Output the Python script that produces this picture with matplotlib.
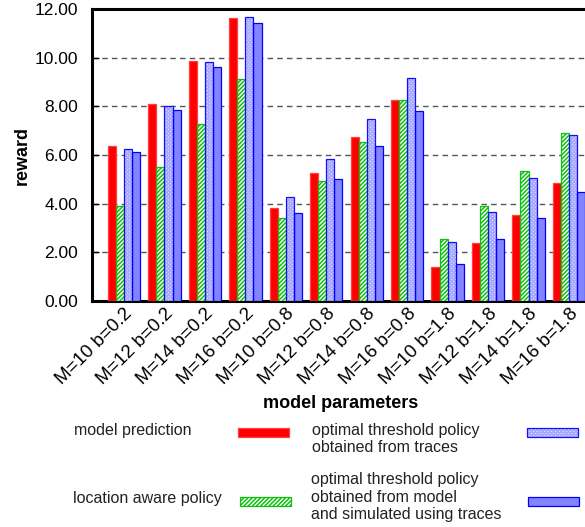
import numpy as np
import matplotlib.pyplot as plt
from matplotlib.patches import Rectangle

plt.rcParams['font.family'] = ['Liberation Sans', 'DejaVu Sans']
plt.rcParams['hatch.linewidth'] = 1.1

# Data
params = ["M=10 b=0.2", "M=12 b=0.2", "M=14 b=0.2", "M=16 b=0.2",
          "M=10 b=0.8", "M=12 b=0.8", "M=14 b=0.8", "M=16 b=0.8",
          "M=10 b=1.8", "M=12 b=1.8", "M=14 b=1.8", "M=16 b=1.8"]
model_prediction = [6.38, 8.10, 9.85, 11.63, 3.84, 5.27, 6.75, 8.27, 1.40, 2.38, 3.55, 4.84]
location_aware = [3.90, 5.49, 7.26, 9.11, 3.40, 4.92, 6.53, 8.26, 2.56, 3.89, 5.34, 6.89]
threshold_traces = [6.23, 8.01, 9.84, 11.69, 4.27, 5.82, 7.47, 9.15, 2.41, 3.65, 5.04, 6.81]
threshold_model = [6.11, 7.84, 9.60, 11.41, 3.60, 5.01, 6.38, 7.81, 1.51, 2.54, 3.40, 4.47]
yticks = [0, 2, 4, 6, 8, 10, 12]

W, H = 585, 527
fig = plt.figure(figsize=(W / 100, H / 100), dpi=100)


def fx(px):
    return px / W


def fy(py):
    return 1 - py / H


ax = fig.add_axes([fx(92), fy(301), fx(601) - fx(92), fy(9) - fy(301)])

# fill style (hatch colour follows edgecolor) + outline colour for each series
fills = [
    dict(facecolor='#ff0000', edgecolor='#ff0000', hatch=None),
    dict(facecolor='white', edgecolor='#10c010', hatch='////////'),
    dict(facecolor='#f0f0ff', edgecolor='#a8a8ff', hatch='xxxxxxxxx'),
    dict(facecolor='#8484ff', edgecolor='#8484ff', hatch=None),
]
outlines = ['#ff4040', '#10c010', '#1010ff', '#0000ff']
series = [model_prediction, location_aware, threshold_traces, threshold_model]

x = np.arange(len(params))
w = 0.2
for i, vals in enumerate(series):
    pos = x + (i - 1.5) * w
    ax.bar(pos, vals, w, linewidth=0, zorder=3, **fills[i])
    ax.bar(pos, vals, w, facecolor='none', edgecolor=outlines[i], linewidth=0.9, zorder=4)

ax.set_xlim(-0.79, 11.79)
ax.set_ylim(0, 12)
ax.set_yticks(yticks)
ax.set_yticklabels(["%.2f" % v for v in yticks], fontsize=12.5)
ax.yaxis.grid(True, linestyle=(0, (4, 3)), color='#555555', linewidth=1.0, zorder=0)
ax.tick_params(axis='y', direction='in', length=5, width=1, pad=10, right=True)
ax.tick_params(axis='x', length=0, pad=3)
ax.set_xticks(x)
ax.set_xticklabels(params, rotation=45, ha='right', va='top',
                   rotation_mode='anchor', fontsize=13.5)
for s in ax.spines.values():
    s.set_linewidth(2.2)
ax.set_axisbelow(True)

fig.text(fx(22), fy(155), "reward", rotation=90, ha='center', va='center',
         fontsize=13, fontweight='bold')
fig.text(fx(341), fy(403), "model parameters", ha='center', va='center',
         fontsize=13, fontweight='bold')

# Legend (text first, sample after, as in the reference)
labels = ["model prediction", "location aware policy",
          "optimal threshold policy\nobtained from traces",
          "optimal threshold policy\nobtained from model\nand simulated using traces"]
text_pos = [(74, 431), (73, 499), (312, 439), (311, 497)]
key_pos = [(238, 432), (240, 501), (527, 432), (528, 501)]
for i, (lab, (tx, ty), (kx, ky)) in enumerate(zip(labels, text_pos, key_pos)):
    fig.text(fx(tx), fy(ty), lab, ha='left', va='center', fontsize=11.5,
             linespacing=1.2, color='#222222')
    box = (fx(kx), fy(ky + 4.5))
    fig.patches.append(Rectangle(box, fx(51), 9 / H, transform=fig.transFigure,
                                 linewidth=0, **fills[i]))
    fig.patches.append(Rectangle(box, fx(51), 9 / H, transform=fig.transFigure,
                                 linewidth=0.9, facecolor='none', edgecolor=outlines[i]))

fig.savefig("out.png", dpi=100)
